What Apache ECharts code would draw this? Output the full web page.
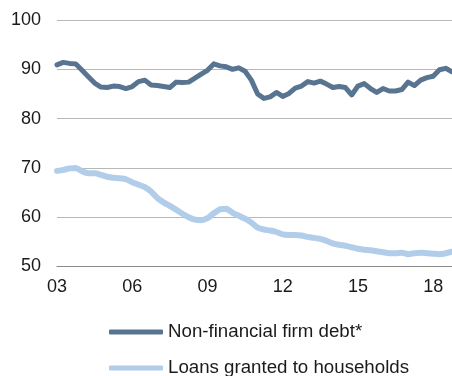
<!DOCTYPE html>
<html>
<head>
<meta charset="utf-8">
<script src="https://cdn.jsdelivr.net/npm/echarts@6/dist/echarts.min.js"></script>
<style>
  html, body { margin: 0; padding: 0; background: #ffffff; }
  #chart { width: 452px; height: 376px; }
</style>
</head>
<body>
<div id="chart"></div>
<script>
// Quarterly observations, 2003 Q1 – 2018 Q4
const years = [2003, 2004, 2005, 2006, 2007, 2008, 2009, 2010,
               2011, 2012, 2013, 2014, 2015, 2016, 2017, 2018];
const quarters = [1, 2, 3, 4];
const categories = [];
years.forEach(y => quarters.forEach(q => categories.push(y + 'Q' + q)));

// Years whose first quarter carries a tick label
const labelYears = [2003, 2006, 2009, 2012, 2015, 2018];

const yTicks = { min: 50, max: 100, step: 10 };

const firmDebt = [
  90.9, 91.4, 91.2, 91.1,
  89.8, 88.5, 87.2, 86.4,
  86.3, 86.6, 86.5, 86.1,
  86.5, 87.5, 87.8, 86.8,
  86.7, 86.5, 86.3, 87.4,
  87.3, 87.4, 88.2, 89.0,
  89.8, 91.1, 90.7, 90.5,
  90.0, 90.3, 89.6, 87.8,
  85.0, 84.1, 84.4, 85.3,
  84.5, 85.1, 86.2, 86.6,
  87.5, 87.2, 87.6, 87.0,
  86.3, 86.5, 86.3, 84.8,
  86.6, 87.1, 86.1, 85.3,
  86.1, 85.6, 85.6, 85.9,
  87.4, 86.7, 87.8, 88.3,
  88.6, 89.9, 90.2, 89.5
];

const householdLoans = [
  69.4, 69.6, 69.9, 70.0,
  69.3, 68.9, 68.9, 68.6,
  68.2, 68.0, 67.9, 67.7,
  67.1, 66.6, 66.1, 65.2,
  63.9, 63.0, 62.3, 61.5,
  60.7, 60.0, 59.5, 59.4,
  59.8, 60.8, 61.6, 61.7,
  60.9, 60.3, 59.7, 58.9,
  57.9, 57.5, 57.3, 57.0,
  56.5, 56.4, 56.4, 56.3,
  56.0, 55.8, 55.6, 55.2,
  54.7, 54.4, 54.2, 53.9,
  53.6, 53.4, 53.3, 53.1,
  52.9, 52.7, 52.7, 52.8,
  52.5, 52.7, 52.8, 52.7,
  52.6, 52.5, 52.7, 53.0
];

const seriesNames = ['Non-financial firm debt*', 'Loans granted to households'];
const seriesColors = ['#587491', '#b1cdea'];

const FONT = '"Liberation Sans", Arial, sans-serif';
const chart = echarts.init(document.getElementById('chart'), null, { renderer: 'canvas' });

// One legend block per series, stacked under the plot
const legendBlock = (name, top) => ({
  orient: 'vertical',
  left: 109,
  top: top,
  padding: 0,
  icon: 'roundRect',
  itemWidth: 54,
  itemHeight: 5,
  itemGap: 0,
  data: [name],
  textStyle: { fontFamily: FONT, fontSize: 18.7, color: '#1a1a1a' }
});

chart.setOption({
  animation: false,
  backgroundColor: '#ffffff',
  grid: { left: 57, right: 0, top: 20, bottom: 109.5, containLabel: false },
  legend: [
    legendBlock(seriesNames[0], 322.5),
    legendBlock(seriesNames[1], 358.5)
  ],
  xAxis: {
    type: 'category',
    data: categories,
    boundaryGap: false,
    axisTick: { show: false },
    axisLine: { lineStyle: { color: '#8a8a8a', width: 1 } },
    axisLabel: {
      interval: (idx, val) => labelYears.includes(+val.slice(0, 4)) && val.endsWith('Q1'),
      formatter: val => val.slice(2, 4),
      margin: 12,
      fontFamily: FONT,
      fontSize: 18,
      color: '#1a1a1a'
    },
    splitLine: { show: false }
  },
  yAxis: {
    type: 'value',
    min: yTicks.min,
    max: yTicks.max,
    interval: yTicks.step,
    axisLine: { show: false },
    axisTick: { show: false },
    axisLabel: { margin: 16, fontFamily: FONT, fontSize: 18, color: '#1a1a1a' },
    splitLine: { lineStyle: { color: '#b8b8b8', width: 1 } }
  },
  series: [
    {
      name: seriesNames[0],
      type: 'line',
      data: firmDebt,
      showSymbol: false,
      symbol: 'none',
      color: seriesColors[0],
      itemStyle: { color: seriesColors[0] },
      lineStyle: { color: seriesColors[0], width: 5, cap: 'round', join: 'round' },
      z: 3
    },
    {
      name: seriesNames[1],
      type: 'line',
      data: householdLoans,
      showSymbol: false,
      symbol: 'none',
      smooth: 0.2,
      color: seriesColors[1],
      itemStyle: { color: seriesColors[1] },
      lineStyle: { color: seriesColors[1], width: 6, cap: 'round', join: 'round' },
      z: 2
    }
  ]
});
</script>
</body>
</html>
